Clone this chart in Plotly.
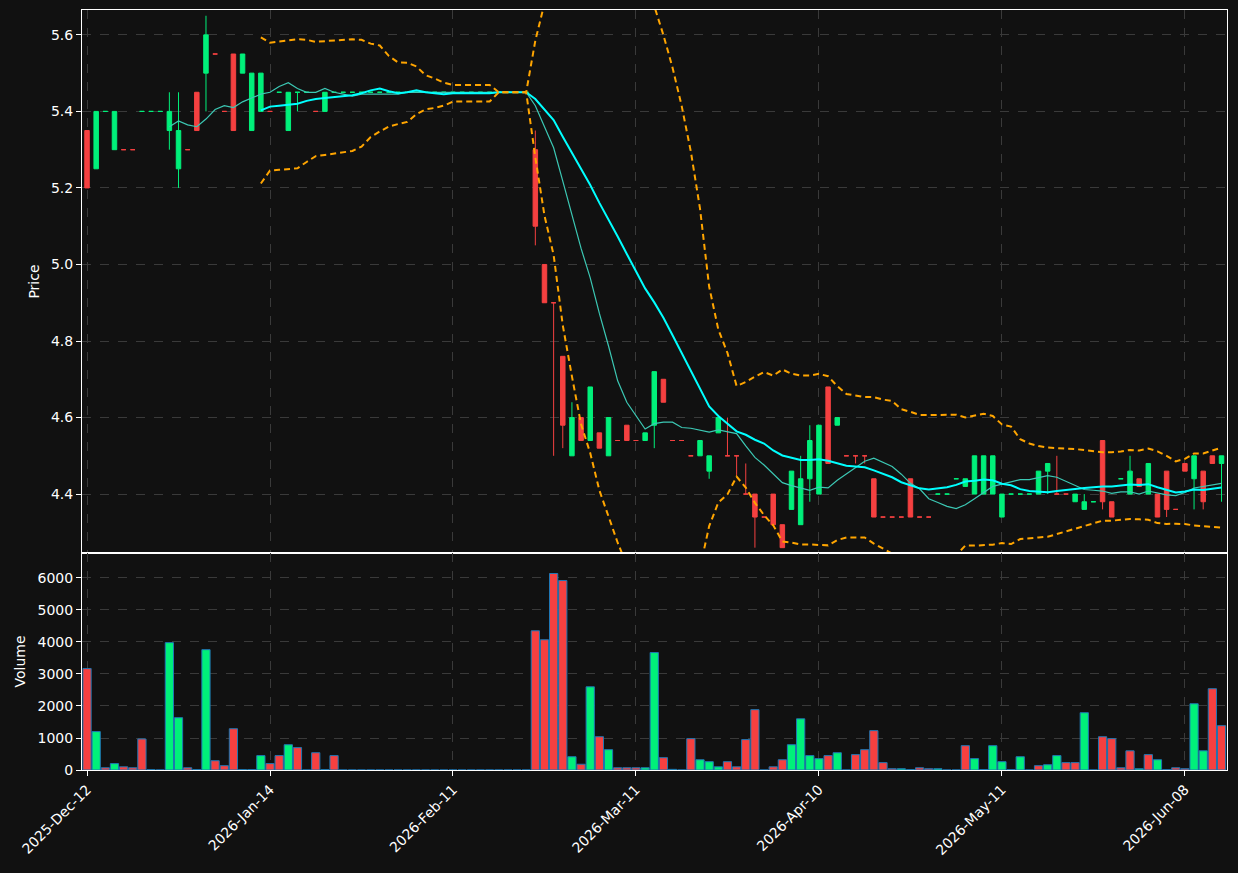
import pandas as pd
import plotly.graph_objects as go
from plotly.subplots import make_subplots

opens = [5.35,5.25,5.40,5.30,5.30,5.30,5.40,5.40,5.40,5.35,5.25,5.30,5.45,5.50,5.55,5.40,5.55,5.50,5.35,5.40,
         5.40,5.45,5.35,5.45,5.45,5.40,5.40,5.45,5.45,5.45,5.45,5.45,5.45,5.45,5.45,5.45,5.45,5.45,5.45,5.45,
         5.45,5.45,5.45,5.45,5.45,5.45,5.45,5.45,5.45,5.30,5.00,4.90,4.76,4.50,4.60,4.54,4.56,4.50,4.54,4.58,
         4.54,4.54,4.58,4.70,4.54,4.54,4.50,4.50,4.46,4.56,4.50,4.50,4.40,4.40,4.34,4.40,4.32,4.36,4.32,4.44,
         4.40,4.68,4.58,4.50,4.50,4.50,4.44,4.34,4.34,4.34,4.44,4.34,4.34,4.40,4.40,4.44,4.42,4.40,4.40,4.40,
         4.34,4.40,4.40,4.40,4.40,4.46,4.40,4.40,4.38,4.36,4.38,4.54,4.38,4.44,4.40,4.44,4.40,4.40,4.46,4.36,
         4.48,4.44,4.46,4.50,4.48]
highs = [5.35,5.40,5.40,5.40,5.30,5.30,5.40,5.40,5.40,5.45,5.45,5.30,5.45,5.65,5.55,5.40,5.55,5.55,5.50,5.50,
         5.40,5.45,5.45,5.45,5.45,5.40,5.45,5.45,5.45,5.45,5.45,5.45,5.45,5.45,5.45,5.45,5.45,5.45,5.45,5.45,
         5.45,5.45,5.45,5.45,5.45,5.45,5.45,5.45,5.45,5.35,5.00,4.90,4.76,4.64,4.60,4.68,4.56,4.60,4.54,4.58,
         4.54,4.56,4.72,4.70,4.54,4.54,4.50,4.54,4.50,4.60,4.60,4.50,4.48,4.40,4.34,4.40,4.32,4.46,4.50,4.58,
         4.58,4.68,4.60,4.50,4.50,4.50,4.44,4.34,4.34,4.34,4.44,4.34,4.34,4.40,4.40,4.44,4.44,4.50,4.50,4.50,
         4.40,4.40,4.40,4.40,4.46,4.48,4.50,4.40,4.40,4.40,4.38,4.54,4.38,4.44,4.50,4.44,4.48,4.40,4.46,4.36,
         4.48,4.50,4.46,4.50,4.50]
lows = [5.20,5.25,5.40,5.30,5.30,5.30,5.40,5.40,5.40,5.30,5.20,5.30,5.35,5.40,5.55,5.40,5.35,5.50,5.35,5.40,
        5.40,5.45,5.35,5.40,5.45,5.40,5.40,5.45,5.45,5.45,5.45,5.45,5.45,5.45,5.45,5.45,5.45,5.45,5.45,5.45,
        5.45,5.45,5.45,5.45,5.45,5.45,5.45,5.45,5.45,5.05,4.90,4.50,4.52,4.50,4.54,4.54,4.52,4.50,4.54,4.54,
        4.54,4.54,4.52,4.64,4.54,4.54,4.50,4.50,4.44,4.56,4.50,4.45,4.40,4.26,4.34,4.32,4.26,4.36,4.32,4.38,
        4.40,4.48,4.58,4.50,4.48,4.48,4.34,4.34,4.34,4.34,4.34,4.34,4.34,4.40,4.40,4.44,4.42,4.40,4.40,4.40,
        4.34,4.40,4.40,4.40,4.40,4.40,4.40,4.40,4.38,4.36,4.38,4.36,4.34,4.44,4.40,4.42,4.40,4.34,4.34,4.36,
        4.46,4.36,4.36,4.48,4.38]
closes = [5.20,5.40,5.40,5.40,5.30,5.30,5.40,5.40,5.40,5.40,5.35,5.30,5.35,5.60,5.55,5.40,5.35,5.55,5.50,5.50,
          5.40,5.45,5.45,5.45,5.45,5.40,5.45,5.45,5.45,5.45,5.45,5.45,5.45,5.45,5.45,5.45,5.45,5.45,5.45,5.45,
          5.45,5.45,5.45,5.45,5.45,5.45,5.45,5.45,5.45,5.10,4.90,4.90,4.58,4.60,4.54,4.68,4.52,4.60,4.54,4.54,
          4.54,4.56,4.72,4.64,4.54,4.54,4.50,4.54,4.50,4.60,4.50,4.50,4.40,4.34,4.34,4.32,4.26,4.46,4.44,4.54,
          4.58,4.48,4.60,4.50,4.50,4.50,4.34,4.34,4.34,4.34,4.34,4.34,4.34,4.40,4.40,4.44,4.44,4.50,4.50,4.50,
          4.40,4.40,4.40,4.40,4.46,4.48,4.40,4.40,4.40,4.38,4.38,4.38,4.34,4.44,4.46,4.42,4.48,4.34,4.36,4.36,
          4.46,4.50,4.38,4.48,4.50]
volumes = [3170,1200,70,200,100,70,970,10,0,3980,1635,70,10,3760,290,135,1290,10,10,450,
           200,450,790,700,0,540,10,450,0,0,0,0,0,0,0,0,0,0,0,0,
           0,0,0,0,0,0,0,0,0,4350,4070,6140,5920,415,180,2600,1040,635,70,70,
           70,70,3670,385,20,0,980,320,260,100,260,100,950,1885,0,100,320,790,1600,450,
           355,450,540,0,480,635,1230,230,40,40,10,70,40,40,0,0,760,355,10,760,
           260,10,415,0,135,165,450,230,230,1790,0,1040,980,70,600,40,480,320,10,70,
           40,2070,600,2540,1385]
vol_dir = ("dudud" "dduuu" "uduud" "dduuu" "ddudd" "dudd" "d" "dddddddddd" "dddddddddd"
           "dddududud" "d" "duududduuu" "ddddddduuu" "udud" "ddddduu" "ddu" "udduuuu"
           "uudduudduu" "ddddudu" "ddd" "uudd" "u")
tick_idx = [0, 20, 40, 60, 80, 100, 120]
tick_labels = ["2025-Dec-12", "2026-Jan-14", "2026-Feb-11", "2026-Mar-11",
               "2026-Apr-10", "2026-May-11", "2026-Jun-08"]

UP, DOWN = "#00f07a", "#f54040"
n = len(closes)
x = list(range(n))
vol_dir = (vol_dir + "d" * n)[:n]

s = pd.Series(closes)
ma10 = s.rolling(10).mean()
ma20 = s.rolling(20).mean()
sd20 = s.rolling(20).std(ddof=0)
bb_up = ma20 + 2 * sd20
bb_lo = ma20 - 2 * sd20

fig = make_subplots(rows=2, cols=1, shared_xaxes=True, vertical_spacing=0,
                    row_heights=[0.7145, 0.2855])
fig.add_trace(go.Candlestick(x=x, open=opens, high=highs, low=lows, close=closes,
                             increasing=dict(line=dict(color=UP, width=1), fillcolor=UP),
                             decreasing=dict(line=dict(color=DOWN, width=1), fillcolor=DOWN),
                             whiskerwidth=0, showlegend=False), row=1, col=1)
fig.add_trace(go.Scatter(x=x, y=ma10, mode="lines", line=dict(color="#3cc8b4", width=1.2),
                         showlegend=False), row=1, col=1)
fig.add_trace(go.Scatter(x=x, y=ma20, mode="lines", line=dict(color="#00ffff", width=2),
                         showlegend=False), row=1, col=1)
for b in (bb_up, bb_lo):
    fig.add_trace(go.Scatter(x=x, y=b, mode="lines",
                             line=dict(color="#ffa500", width=2, dash="6px,4px"),
                             showlegend=False), row=1, col=1)
fig.add_trace(go.Bar(x=x, y=volumes, width=0.9,
                     marker=dict(color=[UP if d == "u" else DOWN for d in vol_dir],
                                 line=dict(color="#1f77b4", width=1)),
                     showlegend=False), row=2, col=1)

axcommon = dict(showline=True, linecolor="white", mirror=True, gridcolor="#3a3a3a",
                griddash="dash", zeroline=False, ticks="outside", tickcolor="white",
                tickfont=dict(color="white", size=14), automargin=False)
fig.update_xaxes(**axcommon, range=[-0.55, 124.6], tickvals=tick_idx, ticktext=tick_labels,
                 rangeslider=dict(visible=False))
fig.update_xaxes(showticklabels=False, row=1, col=1)
fig.update_xaxes(tickangle=-45, row=2, col=1)
fig.update_yaxes(**axcommon)
fig.update_yaxes(range=[4.246, 5.665], tickvals=[4.4, 4.6, 4.8, 5.0, 5.2, 5.4, 5.6],
                 tickformat=".1f", title=dict(text="Price", font=dict(color="white", size=14), standoff=8),
                 row=1, col=1)
fig.update_yaxes(range=[0, 6780], tickvals=[0, 1000, 2000, 3000, 4000, 5000, 6000],
                 title=dict(text="Volume", font=dict(color="white", size=14), standoff=8), row=2, col=1)
fig.update_layout(width=1222, height=857, paper_bgcolor="#111111", plot_bgcolor="#111111",
                  margin=dict(l=74, r=3, t=2, b=95),
                  font=dict(family="DejaVu Sans", color="white"), bargap=0.1)
fig.write_html("out.html", post_script="document.body.style.background='#111111';")
